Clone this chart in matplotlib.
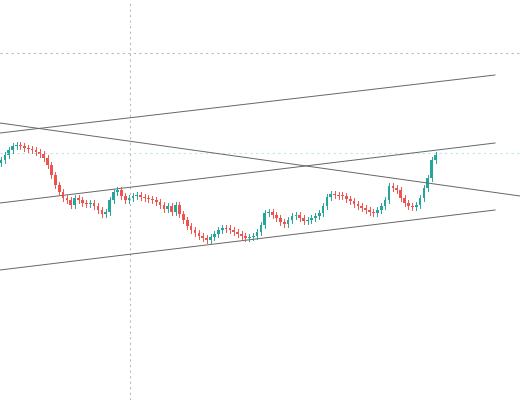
import matplotlib
matplotlib.use("Agg")
import matplotlib.pyplot as plt

# price in screen-like units (higher value = lower on screen; axis inverted)
closes = [160,155,150,146,145,146,148,149,150,152,154,158,165,175,185,192,198,200,205,198,
          200,203,204,203,206,210,214,212,200,192,190,196,200,198,196,195,197,198,199,200,
          202,205,209,206,212,205,214,220,226,230,233,236,238,240,237,234,230,228,228,230,
          232,234,236,238,237,236,232,225,213,212,215,218,222,224,220,216,215,218,221,220,
          218,216,213,206,197,194,195,195,196,199,201,204,206,208,210,212,213,210,206,200,
          186,188,190,198,203,206,207,205,198,188,178,160,155]
highs_ext = 3
lows_ext = 3
line_pts = [((0,133),(495,75)), ((0,203),(495,143)), ((0,270),(495,210)), ((0,123),(520,196))]

fig = plt.figure(figsize=(5.2,4.0), dpi=100)
ax = fig.add_axes([0,0,1,1])
ax.set_xlim(0,520); ax.set_ylim(400,0); ax.axis('off')

ax.axvline(130, color='#bbbbbb', lw=0.8, ls=(0,(2,3)))
ax.axhline(53, color='#bbbbbb', lw=0.8, ls=(0,(2,3)))
ax.axhline(153, color='#bfe6ec', lw=0.8, ls=(0,(2,3)))
for (a,b) in line_pts:
    ax.plot([a[0],b[0]],[a[1],b[1]], color='#666666', lw=0.7)

step = 3.88
for i,c in enumerate(closes):
    o = closes[i-1] if i>0 else c+3
    x = 1 + i*step
    up = c < o
    col = '#26a69a' if up else '#ef5350'
    top, bot = min(o,c), max(o,c)
    if bot-top < 1: bot = top+1
    ax.plot([x,x],[top-highs_ext, bot+lows_ext], color=col, lw=0.7)
    ax.bar(x, bot-top, bottom=top, width=step*0.7, color=col, linewidth=0)

fig.savefig("out.png", dpi=100)
